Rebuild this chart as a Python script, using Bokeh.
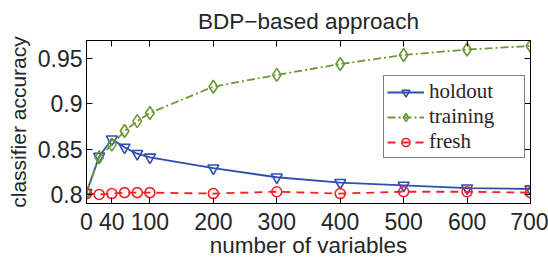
from bokeh.plotting import figure
from bokeh.models import LinearAxis, FixedTicker, Range1d, Legend, LegendItem, CustomJSTickFormatter
from bokeh.embed import file_html
from bokeh.resources import INLINE

# data
num_vars = [0, 20, 40, 60, 80, 100, 200, 300, 400, 500, 600, 700]
holdout = [0.802, 0.842, 0.861, 0.852, 0.845, 0.841, 0.829, 0.819, 0.813, 0.810, 0.807, 0.806]
training = [0.802, 0.841, 0.855, 0.870, 0.881, 0.890, 0.919, 0.932, 0.944, 0.954, 0.960, 0.964]
fresh = [0.801, 0.800, 0.801, 0.802, 0.802, 0.802, 0.801, 0.803, 0.801, 0.803, 0.803, 0.802]
x_ticks = [0, 40, 100, 200, 300, 400, 500, 600, 700]
y_ticks = [0.8, 0.85, 0.9, 0.95]
y_tick_labels = ["0.8", "0.85", "0.9", "0.95"]

BLUE = "#2f4fae"
GREEN = "#6a9a35"
RED = "#f42025"
TXT = "#262626"
SANS = "Liberation Sans"
SERIF = "Liberation Serif"

p = figure(width=548, height=260, output_backend="svg", toolbar_location=None,
           x_range=Range1d(0, 700), y_range=Range1d(0.79, 0.97),
           min_border_left=86, min_border_right=18, min_border_top=40, min_border_bottom=57)
p.title.text = "BDP\u2212based approach"
p.title.align = "center"
p.title.text_font = SANS
p.title.text_font_size = "22.5px"
p.title.text_font_style = "normal"
p.title.text_color = TXT
p.title.standoff = 13

p.xgrid.visible = False
p.ygrid.visible = False
p.outline_line_color = "black"
p.background_fill_color = "white"
p.border_fill_color = "white"

def style_axis(ax):
    ax.major_tick_in = 6
    ax.major_tick_out = 0
    ax.minor_tick_line_color = None
    ax.axis_line_color = "black"
    ax.major_tick_line_color = "black"
    ax.major_label_text_font = SANS
    ax.major_label_text_font_size = "23px"
    ax.major_label_text_color = TXT
    ax.axis_label_text_font = SANS
    ax.axis_label_text_font_size = "21px"
    ax.axis_label_text_font_style = "normal"
    ax.axis_label_text_color = TXT

p.xaxis.ticker = FixedTicker(ticks=x_ticks)
p.yaxis.ticker = FixedTicker(ticks=y_ticks)
p.yaxis.major_label_overrides = {t: l for t, l in zip(y_ticks, y_tick_labels)}
p.xaxis.axis_label = "number of variables"
p.yaxis.axis_label = "classifier accuracy"
style_axis(p.xaxis[0])
style_axis(p.yaxis[0])
p.xaxis.axis_label_text_font_size = "22.5px"
p.xaxis.major_label_standoff = 9
p.yaxis.major_label_standoff = 4
p.xaxis.axis_label_standoff = 0
p.yaxis.axis_label_standoff = 5

blank = CustomJSTickFormatter(code="return '';")
top = LinearAxis(ticker=FixedTicker(ticks=x_ticks), formatter=blank)
style_axis(top)
top.major_label_standoff = 0
right = LinearAxis(ticker=FixedTicker(ticks=y_ticks), formatter=blank)
style_axis(right)
right.major_label_standoff = 0
p.add_layout(top, "above")
p.add_layout(right, "right")

l1 = p.line(num_vars, holdout, line_color=BLUE, line_width=1.8)
m1 = p.scatter(num_vars, holdout, marker="inverted_triangle", size=11, line_color=BLUE,
               fill_color=None, line_width=1.6)
l2 = p.line(num_vars, training, line_color=GREEN, line_width=1.8, line_dash="8 3 2 3")
m2 = p.scatter(num_vars, training, marker="diamond", size=13, line_color=GREEN,
               fill_color=None, line_width=1.6)
l3 = p.line(num_vars, fresh, line_color=RED, line_width=1.8, line_dash="8 6")
m3 = p.scatter(num_vars, fresh, marker="circle", size=10, line_color=RED,
               fill_color=None, line_width=1.6)

legend = Legend(items=[LegendItem(label="holdout", renderers=[l1, m1]),
                       LegendItem(label="training", renderers=[l2, m2]),
                       LegendItem(label="fresh", renderers=[l3, m3])],
                location=(297, 45))
legend.label_text_font = SERIF
legend.label_text_font_size = "21px"
legend.label_text_color = TXT
legend.glyph_width = 37
legend.glyph_height = 20
legend.label_height = 20
legend.label_width = 92
legend.label_standoff = 5
legend.spacing = 0
legend.padding = 3
legend.margin = 0
legend.border_line_color = "black"
legend.border_line_width = 1
legend.background_fill_alpha = 1
p.add_layout(legend, "center")

open("out.html", "w").write(file_html(p, INLINE))
